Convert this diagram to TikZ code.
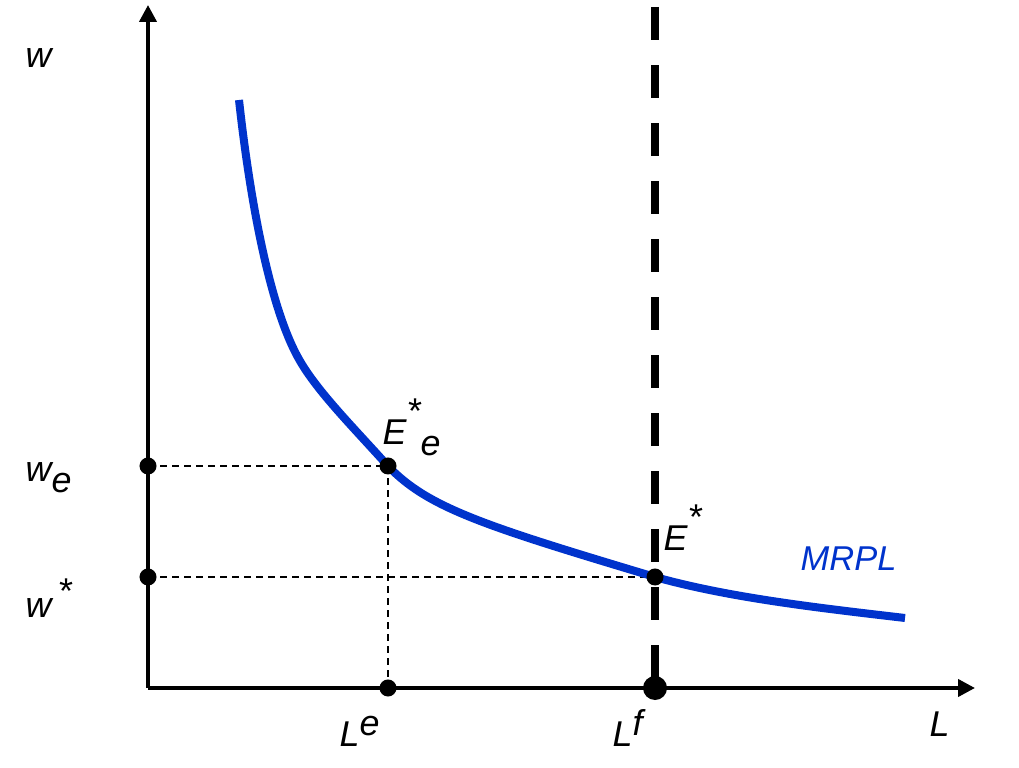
\documentclass[tikz,border=0pt]{standalone}
\usepackage{fontspec}
\setmainfont{Liberation Sans}
\usetikzlibrary{arrows.meta}
\definecolor{mrplblue}{RGB}{0,51,204}
\tikzset{
  axis/.style={line width=0.04cm,-{Triangle[length=0.17cm,width=0.17cm]}},
  guide/.style={line width=0.015cm,dash pattern=on 0.07cm off 0.05cm},
  full/.style={line width=0.08cm,dash pattern=on 0.33cm off 0.25cm},
  lbl/.style={anchor=base west,inner sep=0pt,font=\fontsize{10.2}{12}\selectfont\itshape},
}
\newcommand{\up}[1]{\raisebox{0.33em}{#1}}
\newcommand{\dn}[1]{\raisebox{-0.28em}{#1}}

\begin{document}
\begin{tikzpicture}[x=0.01cm,y=-0.01cm]
    \useasboundingbox (0,0) rectangle (1019,768);
    % points
    \coordinate (O) at (148,688);
    \coordinate (ytop) at (148,5);
    \coordinate (xend) at (975,688);
    \coordinate (we) at (148,466);
    \coordinate (ws) at (148,577);
    \coordinate (Ee) at (388,466);
    \coordinate (Es) at (655,577);
    \coordinate (Le) at (388,688);
    \coordinate (Lf) at (655,688);
    \coordinate (ftop) at (655,7);
    \coordinate (mtop) at (239,100);
    \coordinate (mbend) at (300,361);
    \coordinate (mend) at (905,618);
    % guides
    \draw[guide] (we) -- (Ee) -- (Le);
    \draw[guide] (ws) -- (Es);
    % full employment
    \draw[full] (ftop) -- (Lf);
    % axes
    \draw[axis] (O) -- (ytop);
    \draw[axis] (O) -- (xend);
    % MRPL
    \draw[mrplblue,line width=0.08cm] (mtop)
      .. controls (250,200) and (270,310) .. (mbend)
      .. controls (318,392) and (352,426) .. (Ee)
      .. controls (428,508) and (485,526) .. (Es)
      .. controls (730,598) and (820,608) .. (mend);
    % dots
    \foreach \p in {we,ws,Ee,Es,Le} \fill (\p) circle (0.085cm);
    \fill (Lf) circle (0.12cm);
    % labels
    \node[lbl] (wlab) at (25,68) {w};
    \node[lbl] (welab) at (25,482) {w\dn{e}};
    \node[lbl] (wslab) at (25,618) {w\,\raisebox{0.4em}{*}};
    \node[lbl] (Lelab) at (339,747) {L\up{e}};
    \node[lbl] (Lflab) at (612,747) {L\up{f}};
    \node[lbl] (Llab) at (929,736) {L};
    \node[lbl] (Eelab) at (382,445) {E\raisebox{0.6em}{*}\dn{e}};
    \node[lbl] (Eslab) at (663,551) {E\raisebox{0.6em}{*}};
    \node[lbl,text=mrplblue,font=\fontsize{9.8}{12}\selectfont\itshape] (mrpl) at (800,571) {MRPL};
\end{tikzpicture}
\end{document}
